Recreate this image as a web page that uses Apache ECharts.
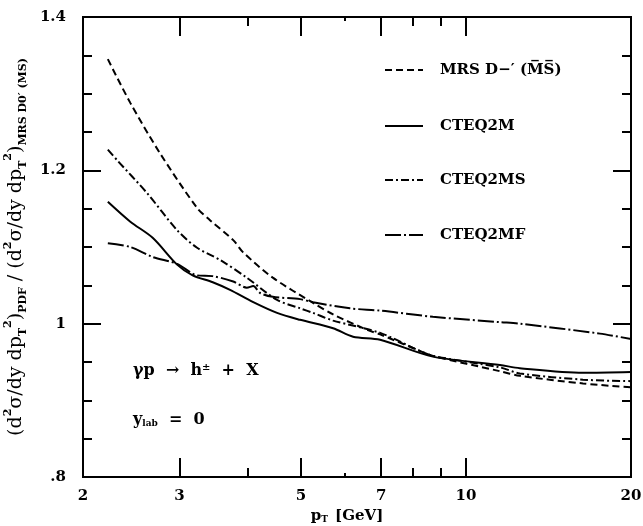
<!DOCTYPE html>
<html>
<head>
<meta charset="utf-8">
<script src="https://cdn.jsdelivr.net/npm/echarts@6/dist/echarts.min.js"></script>
<style>html,body{margin:0;padding:0;background:#fff}#c{width:643px;height:526px}</style>
</head>
<body>
<div id="c"></div>
<script>
// ---- data ----
var seriesNames = ["MRS D\u2212\u2032 (M\u0305S\u0305)", "CTEQ2M", "CTEQ2MS", "CTEQ2MF"];

var mrsPt  = [2.22, 2.44, 2.76, 3.23, 3.41, 3.76, 3.92, 4.44, 5.26, 5.72, 6.60, 6.97, 8.14, 8.70, 11.53, 12.54, 16.35, 20];
var mrsVal = [1.345, 1.288, 1.223, 1.151, 1.135, 1.109, 1.093, 1.060, 1.027, 1.012, 0.992, 0.986, 0.966, 0.958, 0.938, 0.932, 0.922, 0.917];

var mPt  = [2.22, 2.44, 2.68, 2.97, 3.17, 3.45, 3.71, 4.09, 4.52, 4.98, 5.72, 6.22, 6.97, 8.70, 11.53, 12.54, 16.35, 20];
var mVal = [1.159, 1.133, 1.112, 1.077, 1.063, 1.054, 1.044, 1.028, 1.014, 1.005, 0.994, 0.983, 0.979, 0.957, 0.946, 0.942, 0.936, 0.937];

var msPt  = [2.22, 2.31, 2.62, 2.97, 3.23, 3.56, 3.98, 4.52, 4.98, 5.26, 5.72, 6.97, 8.14, 8.70, 11.53, 12.54, 16.35, 20];
var msVal = [1.227, 1.213, 1.170, 1.122, 1.099, 1.083, 1.060, 1.031, 1.020, 1.014, 1.004, 0.988, 0.966, 0.958, 0.943, 0.935, 0.927, 0.925];

var mfPt  = [2.22, 2.44, 2.68, 2.97, 3.23, 3.45, 3.76, 3.98, 4.09, 4.21, 4.44, 4.98, 5.26, 6.14, 6.97, 8.70, 11.53, 12.54, 17.55, 20];
var mfVal = [1.105, 1.100, 1.087, 1.078, 1.063, 1.062, 1.055, 1.047, 1.049, 1.040, 1.035, 1.032, 1.028, 1.020, 1.017, 1.009, 1.002, 1.000, 0.987, 0.980];

var xMajorTicks = [3, 5, 7, 10];
var xMinorTicks = [4, 8, 9];
var xTinyTicks = [6];
var xLabels = [2, 3, 5, 7, 10, 20];

function pairs(xs, ys) { return xs.map(function (x, i) { return [x, ys[i]]; }); }

var FONT = '"DejaVu Serif", serif';
var chart = echarts.init(document.getElementById('c'), null, {renderer: 'canvas'});

var grid = {left: 83, right: 12, top: 17, bottom: 49, containLabel: false, outerBoundsMode: 'none'};
var lineCol = '#000';

function xAxisDef(pos, ticks, len, showLabel, showName) {
  return {
    type: 'log', logBase: 10, min: 2, max: 20, position: pos,
    axisLine: {show: true, lineStyle: {color: lineCol, width: 2}},
    axisTick: {show: true, inside: true, length: len, customValues: ticks, lineStyle: {color: lineCol, width: 2}},
    axisLabel: {show: showLabel, customValues: xLabels, margin: 12, color: '#000', fontFamily: FONT, fontSize: 15, fontWeight: 'bold',
      formatter: function (v) { return String(Math.round(v)); }},
    splitLine: {show: false}, minorTick: {show: false},
    name: showName ? '{p|p}{s|T} [GeV]' : '', nameLocation: 'middle', nameGap: 30,
    nameTextStyle: {color: '#000', fontFamily: FONT, fontSize: 15, fontWeight: 'bold', padding: [0, 20, 0, 0],
      rich: {p: {fontFamily: FONT, fontSize: 15, fontWeight: 'bold', color: '#000'},
             s: {fontFamily: FONT, fontSize: 9, fontWeight: 'bold', color: '#000', verticalAlign: 'bottom', padding: [6, 2, 0, 0]}}}
  };
}
function yAxisDef(pos, showLabel, showName) {
  return {
    type: 'value', min: 0.8, max: 1.4, interval: 0.2, position: pos,
    axisLine: {show: true, lineStyle: {color: lineCol, width: 2}},
    axisTick: {show: true, inside: true, length: 18, lineStyle: {color: lineCol, width: 2}},
    minorTick: {show: true, splitNumber: 4, length: 9, lineStyle: {color: lineCol, width: 2}},
    axisLabel: {show: showLabel, margin: 17, color: '#000', fontFamily: FONT, fontSize: 15, fontWeight: 'bold',
      formatter: function (v) {
        var r = Math.round(v * 10) / 10;
        if (r === 1) return '1';
        if (r < 1) return String(r).replace('0.', '.');
        return r.toFixed(1);
      }},
    splitLine: {show: false},
    name: showName ? '(d{sup|2}\u03c3/dy dp{sub|T}{sup|2}){sub|PDF} / (d{sup|2}\u03c3/dy dp{sub|T}{sup|2}){sub|MRS D0\u2032 (MS)}' : '',
    nameLocation: 'middle', nameRotate: 90, nameGap: 52,
    nameTextStyle: {color: '#000', fontFamily: FONT, fontSize: 19, lineHeight: 26,
      rich: {
        sup: {fontFamily: FONT, fontSize: 11, fontWeight: 'bold', color: '#000', verticalAlign: 'top', lineHeight: 26, padding: [0, 0, 10, 0]},
        sub: {fontFamily: FONT, fontSize: 11, fontWeight: 'bold', color: '#000', verticalAlign: 'bottom', lineHeight: 26}
      }}
  };
}

var dashTypes = [[7, 4], 'solid', [8, 3, 2, 3], [16, 3, 2, 3]];
var seriesData = [pairs(mrsPt, mrsVal), pairs(mPt, mVal), pairs(msPt, msVal), pairs(mfPt, mfVal)];

var series = seriesData.map(function (d, i) {
  return {
    name: seriesNames[i], type: 'line', data: d, xAxisIndex: 0, yAxisIndex: 0,
    showSymbol: false, symbol: 'none', smooth: 0.3, silent: true,
    lineStyle: {color: '#000', width: 2, type: dashTypes[i]}
  };
});

// legend drawn as graphic (line sample + label)
var legendRowsY = [70, 126, 180, 235];
var legendGraphics = [];
seriesNames.forEach(function (n, i) {
  var dt = dashTypes[i];
  legendGraphics.push({type: 'line', silent: true,
    shape: {x1: 385, y1: legendRowsY[i], x2: 423, y2: legendRowsY[i]},
    style: {stroke: '#000', lineWidth: 2, lineDash: dt === 'solid' ? null : dt}});
  legendGraphics.push({type: 'text', silent: true, x: 440, y: legendRowsY[i],
    style: {text: n, fill: '#000', font: 'bold 15px ' + FONT, textVerticalAlign: 'middle'}});
});

var option = {
  backgroundColor: '#fff',
  animation: false,
  grid: grid,
  xAxis: [
    xAxisDef('bottom', xMajorTicks, 19, true, true),
    xAxisDef('bottom', xMinorTicks, 9, false, false),
    xAxisDef('bottom', xTinyTicks, 4, false, false),
    xAxisDef('top', xMajorTicks, 19, false, false),
    xAxisDef('top', xMinorTicks, 9, false, false),
    xAxisDef('top', xTinyTicks, 4, false, false)
  ],
  yAxis: [
    yAxisDef('left', true, true),
    yAxisDef('right', false, false)
  ],
  series: series,
  graphic: legendGraphics.concat([
    {type: 'text', left: 133, top: 362, silent: true,
     style: {text: '\u03b3p  \u2192  h{sup|\u00b1}  +  X', fill: '#000', font: 'bold 16px ' + FONT,
       rich: {sup: {fontSize: 10, fontWeight: 'bold', fontFamily: FONT, fill: '#000', verticalAlign: 'top', padding: [0, 0, 8, 0]}}}},
    {type: 'text', left: 133, top: 412, silent: true,
     style: {text: 'y{sub|lab}  =  0', fill: '#000', font: 'bold 16px ' + FONT,
       rich: {sub: {fontSize: 9, fontWeight: 'bold', fontFamily: FONT, fill: '#000', verticalAlign: 'bottom', padding: [8, 0, 0, 0]}}}}
  ])
};
chart.setOption(option);
</script>
</body>
</html>
